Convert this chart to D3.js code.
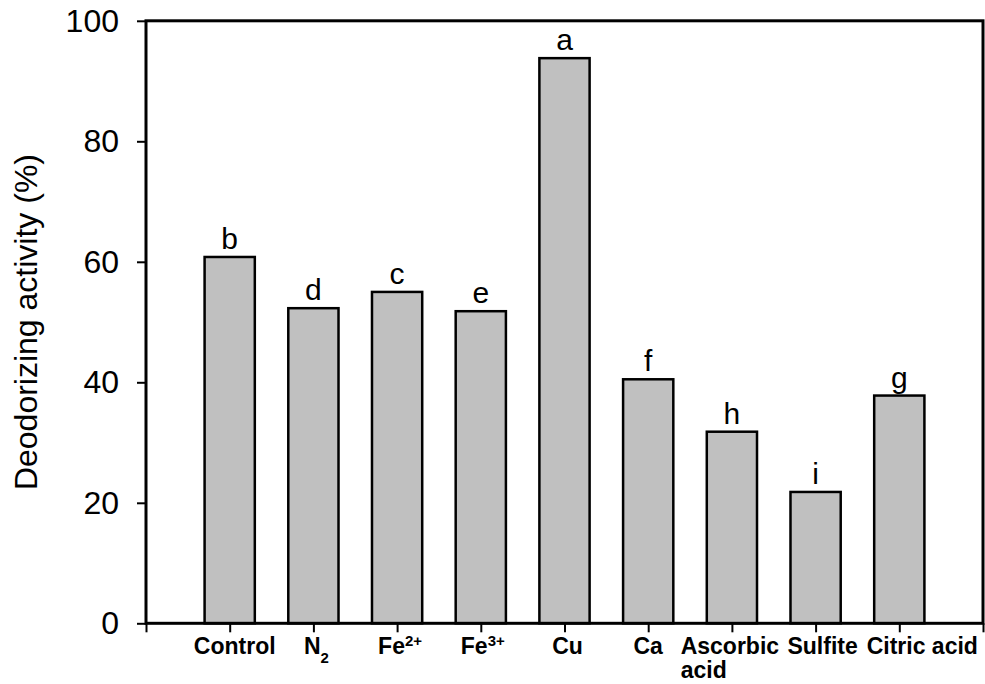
<!DOCTYPE html>
<html>
<head>
<meta charset="utf-8">
<script src="https://cdn.jsdelivr.net/npm/d3@7"></script>
<style>
  body { margin: 0; background: #fff; }
  svg { display: block; font-family: "Liberation Sans", Arial, sans-serif; }
</style>
</head>
<body>
<div id="chart"></div>
<script>
// values
const categories = ["Control", "N2", "Fe2+", "Fe3+", "Cu", "Ca", "Ascorbic acid", "Sulfite", "Citric acid"];
const activity = [60.8, 52.3, 55.0, 51.8, 93.8, 40.5, 31.8, 21.8, 37.8];
const letters = ["b", "d", "c", "e", "a", "f", "h", "i", "g"];
const yTicks = [0, 20, 40, 60, 80, 100];

// how each x label is typeset: pieces [text, "sub"|"sup"|null] per line,
// plus a small nudge so the labels sit as they do in the figure
const labelParts = {
  "Control": { lines: [[["Control", null]]], dx: 5 },
  "N2": { lines: [[["N", null], ["2", "sub"]]], dx: 3 },
  "Fe2+": { lines: [[["Fe", null], ["2+", "sup"]]], dx: 3 },
  "Fe3+": { lines: [[["Fe", null], ["3+", "sup"]]], dx: 2 },
  "Cu": { lines: [[["Cu", null]]], dx: 3 },
  "Ca": { lines: [[["Ca", null]]], dx: 0 },
  "Ascorbic acid": { lines: [[["Ascorbic", null]], [["acid", null]]], dx: -2 },
  "Sulfite": { lines: [[["Sulfite", null]]], dx: 7 },
  "Citric acid": { lines: [[["Citric acid", null]]], dx: 23 },
};

const width = 985;
const height = 684;
const margin = { top: 20.8, right: 2, bottom: 60.7, left: 146 };

const svg = d3.select("#chart")
  .append("svg")
  .attr("width", width)
  .attr("height", height);

const x = d3.scaleLinear()
  .domain([0, categories.length + 1])
  .range([margin.left, width - margin.right]);

const y = d3.scaleLinear()
  .domain([0, 100])
  .range([height - margin.bottom, margin.top]);

const slot = x(1) - x(0);
const barWidth = slot * 0.6;

const data = categories.map((c, i) => ({
  category: c,
  value: activity[i],
  letter: letters[i],
  pos: i + 1,
}));

// bars
svg.append("g")
  .selectAll("rect")
  .data(data)
  .join("rect")
  .attr("x", (d) => x(d.pos) - barWidth / 2)
  .attr("y", (d) => y(d.value))
  .attr("width", barWidth)
  .attr("height", (d) => y(0) - y(d.value))
  .attr("fill", "#c0c0c0")
  .attr("stroke", "#000")
  .attr("stroke-width", 2.5);

// significance letters
svg.append("g")
  .selectAll("text")
  .data(data)
  .join("text")
  .attr("x", (d) => x(d.pos))
  .attr("y", (d) => y(d.value) - 8)
  .attr("text-anchor", "middle")
  .attr("font-size", 30)
  .text((d) => d.letter);

// y axis
const yAxis = svg.append("g")
  .attr("transform", `translate(${margin.left},0)`)
  .call(d3.axisLeft(y).tickValues(yTicks).tickSize(9).tickPadding(18));
yAxis.select(".domain").remove();
yAxis.selectAll(".tick line").attr("stroke-width", 2);
yAxis.selectAll(".tick text")
  .attr("font-size", 32)
  .attr("font-family", "Liberation Sans, Arial, sans-serif")
  .attr("fill", "#000");

// x axis ticks (labels added by hand for sub/superscripts)
const xAxis = svg.append("g")
  .attr("transform", `translate(0,${y(0)})`)
  .call(d3.axisBottom(x).tickValues(d3.range(0, categories.length + 2)).tickSize(9).tickFormat(""));
xAxis.select(".domain").remove();
xAxis.selectAll(".tick line").attr("stroke-width", 2);

const xLabels = svg.append("g")
  .attr("font-size", 23)
  .attr("font-weight", "bold");

data.forEach((d) => {
  const { lines, dx } = labelParts[d.category];
  const cx = x(d.pos) + dx;
  const first = xLabels.append("text")
    .attr("x", cx)
    .attr("y", y(0) + 31)
    .attr("text-anchor", "middle");
  lines[0].forEach(([t, shift]) => {
    const ts = first.append("tspan").text(t);
    if (shift) {
      ts.attr("font-size", 15)
        .attr("baseline-shift", shift === "sup" ? "super" : "sub");
    }
  });
  if (lines.length > 1) {
    const left = cx - first.node().getComputedTextLength() / 2;
    xLabels.append("text")
      .attr("x", left)
      .attr("y", y(0) + 55)
      .text(lines[1][0][0]);
  }
});

// plot frame
svg.append("rect")
  .attr("x", margin.left)
  .attr("y", margin.top)
  .attr("width", width - margin.right - margin.left)
  .attr("height", y(0) - margin.top)
  .attr("fill", "none")
  .attr("stroke", "#000")
  .attr("stroke-width", 3);

// y title
svg.append("text")
  .attr("transform", `translate(37,${(y(0) + y(100)) / 2}) rotate(-90)`)
  .attr("text-anchor", "middle")
  .attr("font-size", 32)
  .text("Deodorizing activity (%)");
</script>
</body>
</html>
